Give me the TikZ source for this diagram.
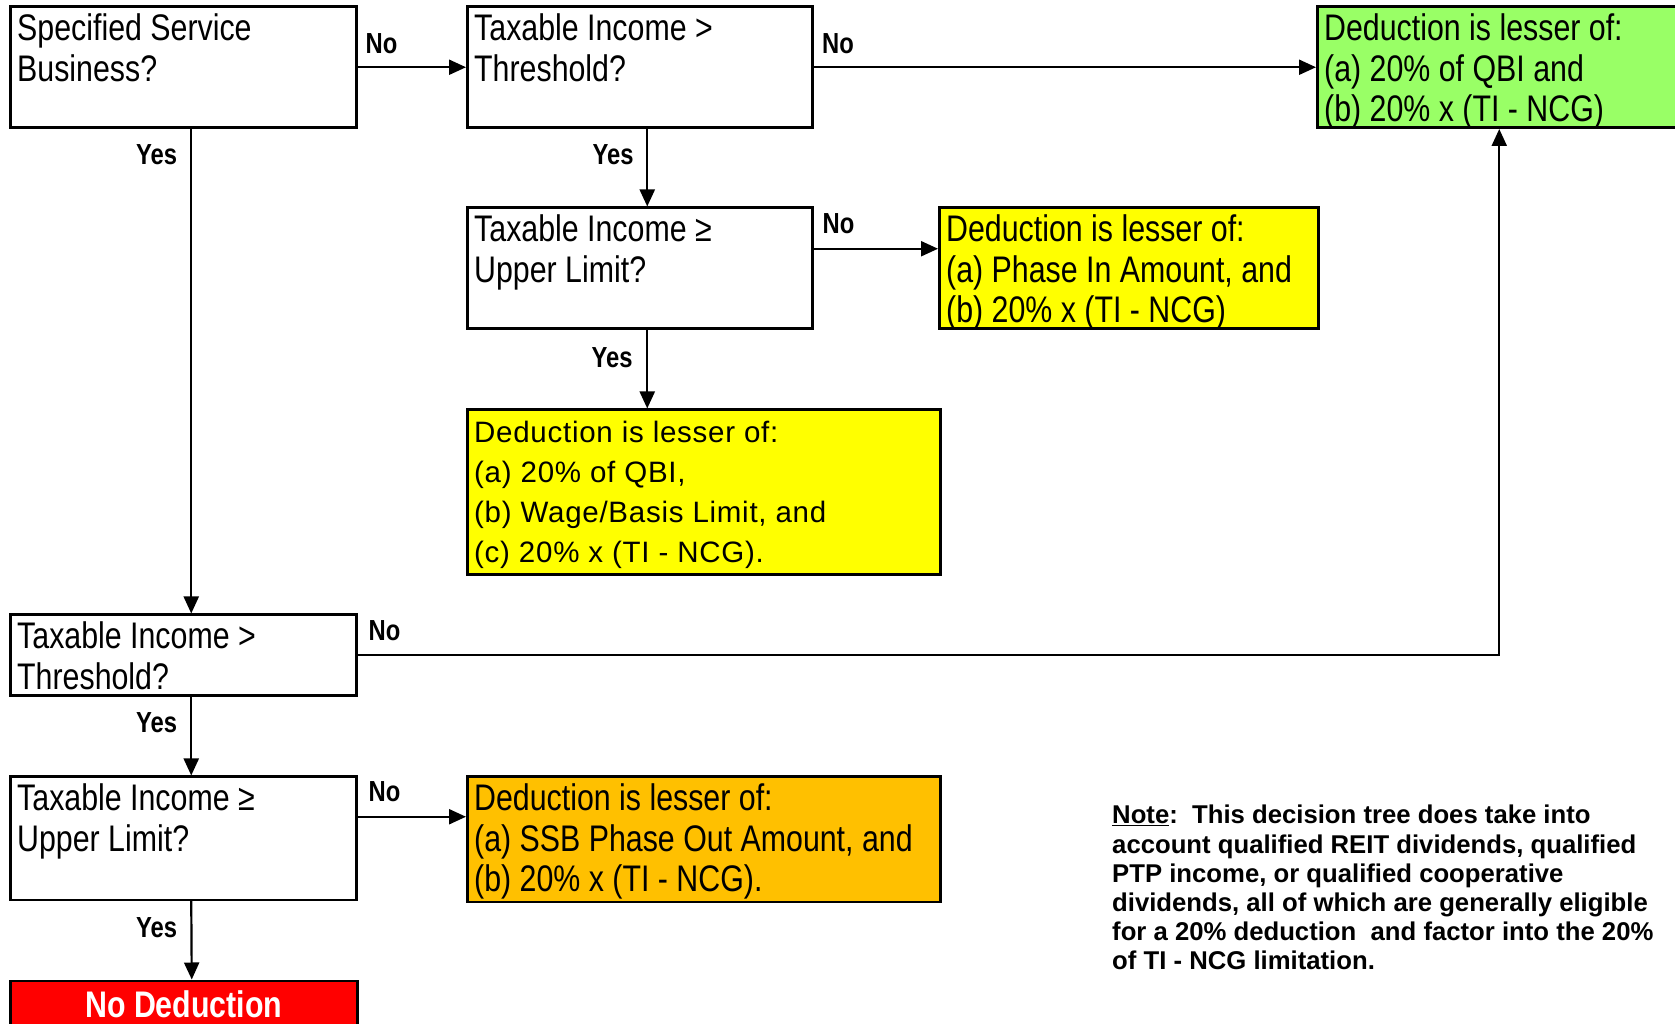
\documentclass[tikz,border=0pt]{standalone}
\usepackage{fontspec}
\setmainfont{Liberation Sans}
\newfontfamily\nar[FakeStretch=0.82]{Liberation Sans}
\newfontfamily\spaced[LetterSpace=2.5]{Liberation Sans}
\usetikzlibrary{arrows.meta,calc}
\definecolor{cgreen}{HTML}{99FF66}
\definecolor{cyellow}{HTML}{FFFF00}
\definecolor{corange}{HTML}{FFC000}
\definecolor{cred}{HTML}{FF0000}
\begin{document}
\begin{tikzpicture}[x=1pt,y=1pt,
  box/.style={draw=black, line width=2.5pt, anchor=south west, inner sep=0pt},
  txt/.style={anchor=north west, align=left, inner xsep=8pt, inner ysep=8pt,
    font=\nar\fontsize{37}{40.5}\selectfont},
  txtw/.style={anchor=north west, align=left, inner xsep=8pt, inner ysep=12pt,
    font=\spaced\fontsize{29.5}{40.3}\selectfont},
  lbl/.style={font=\nar\bfseries\fontsize{29}{30}\selectfont, inner sep=0pt},
  arr/.style={line width=2.2pt, -{Triangle[length=17pt,width=15pt]}}
]
\clip (0,0) rectangle (1675,1023);
\fill[white] (0,0) rectangle (1675,1023);

% boxes
\node[box, minimum width=346pt, minimum height=121pt,
  label={[txt]north west:{Specified Service\\Business?}}] (A) at (9,894) {};
\node[box, minimum width=345pt, minimum height=121pt,
  label={[txt]north west:{Taxable Income >\\Threshold?}}] (B) at (466,894) {};
\node[box, fill=cgreen, minimum width=364pt, minimum height=121pt,
  label={[txt]north west:{Deduction is lesser of:\\(a) 20\% of QBI and\\(b) 20\% x (TI - NCG)}}] (G) at (1316,894) {};
\node[box, minimum width=345pt, minimum height=121pt,
  label={[txt]north west:{Taxable Income ≥\\Upper Limit?}}] (C) at (466,693) {};
\node[box, fill=cyellow, minimum width=379pt, minimum height=121pt,
  label={[txt]north west:{Deduction is lesser of:\\(a) Phase In Amount, and\\(b) 20\% x (TI - NCG)}}] (Y1) at (938,693) {};
\node[box, fill=cyellow, minimum width=473pt, minimum height=165pt,
  label={[txtw]north west:{Deduction is lesser of:\\(a) 20\% of QBI,\\(b) Wage/Basis Limit, and\\(c) 20\% x (TI - NCG).}}] (Y2) at (466,447) {};
\node[box, minimum width=346pt, minimum height=81pt,
  label={[txt]north west:{Taxable Income >\\Threshold?}}] (D) at (9,326) {};
\node[box, minimum width=346pt, minimum height=123pt,
  label={[txt]north west:{Taxable Income ≥\\Upper Limit?}}] (E) at (9,122) {};
\node[box, fill=corange, minimum width=473pt, minimum height=125pt,
  label={[txt]north west:{Deduction is lesser of:\\(a) SSB Phase Out Amount, and\\(b) 20\% x (TI - NCG).}}] (O) at (466,120) {};
\node[box, fill=cred, minimum width=347pt, minimum height=48pt, text=white,
  font=\nar\bfseries\fontsize{37}{40}\selectfont] (R) at (9,-7) {No Deduction};

% connectors
\draw[arr] (A.east) -- (B.west);
\draw[arr] (B.east) -- (G.west);
\draw[arr] ([xshift=7.5pt]B.south) -- ([xshift=7.5pt]C.north);
\draw[arr] ([yshift=19.5pt]C.east) -- ([yshift=19.5pt]C.east -| Y1.west);
\draw[arr] ([xshift=7.5pt]C.south) -- ([xshift=7.5pt]C.south |- Y2.north);
\draw[arr] ([xshift=8pt]A.south) -- ([xshift=8pt]D.north);
\draw[arr] (D.east) -| (G.south);
\draw[arr] ([xshift=8pt]D.south) -- ([xshift=8pt]E.north);
\draw[arr] ([yshift=21.5pt]E.east) -- ([yshift=21.5pt]E.east -| O.west);
\draw[arr] ([xshift=8pt]E.south) -- ([xshift=8pt]R.north);

% labels
\node[lbl] (l1) at (381.5,979) {No};
\node[lbl] (l2) at (838,979) {No};
\node[lbl] (l3) at (613,868) {Yes};
\node[lbl] (l4) at (156.5,868) {Yes};
\node[lbl] (l5) at (838.5,799) {No};
\node[lbl] (l6) at (612,665) {Yes};
\node[lbl] (l7) at (384.5,392) {No};
\node[lbl] (l8) at (156.5,300) {Yes};
\node[lbl] (l9) at (384.5,231.5) {No};
\node[lbl] (l10) at (156.5,95) {Yes};

% note
\node[anchor=north west, align=left, inner sep=0pt,
  font=\bfseries\fontsize{25.7}{29.2}\selectfont] (note) at (1112,218)
  {\underline{Note}:\ \ This decision tree does take into\\
   account qualified REIT dividends, qualified\\
   PTP income, or qualified cooperative\\
   dividends, all of which are generally eligible\\
   for a 20\% deduction\ \ and factor into the 20\%\\
   of TI - NCG limitation.};
\end{tikzpicture}
\end{document}
